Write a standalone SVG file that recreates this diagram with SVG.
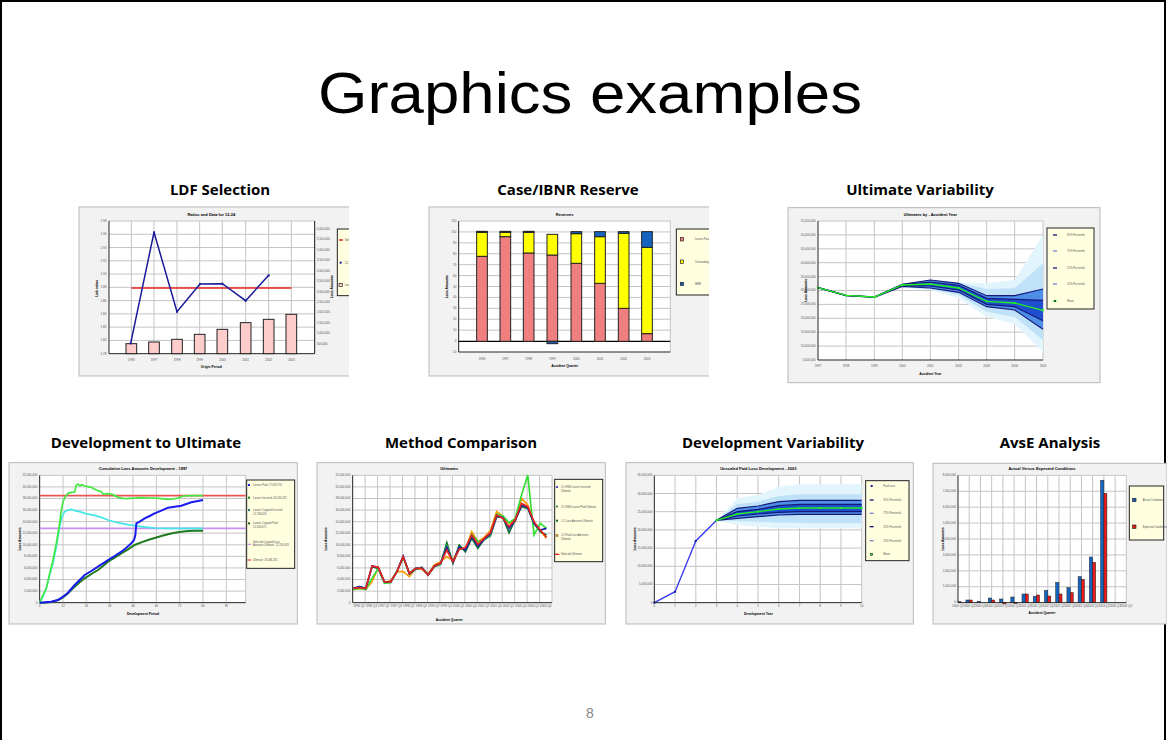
<svg xmlns="http://www.w3.org/2000/svg" width="1167" height="740" viewBox="0 0 1167 740">
<style>
.frame{fill:#f2f2f2;stroke:#b8b8b8;stroke-width:3}
.plot{fill:#fff;stroke:none}
.grid{stroke:#c4c4c4;stroke-width:3;fill:none}
.axis{stroke:#222;stroke-width:3;fill:none}
.tick{font-family:"Liberation Sans",Arial,sans-serif;font-size:9px;fill:#555}
.ttl{font-family:"Liberation Sans",Arial,sans-serif;font-size:12px;font-weight:bold;fill:#000}
.atl{font-family:"Liberation Sans",Arial,sans-serif;font-size:10px;font-weight:bold;fill:#000}
.leg{fill:#ffffe0;stroke:#222;stroke-width:3}
.lt{font-family:"Liberation Sans",Arial,sans-serif;font-size:8px;fill:#555}
.head{font-family:"Open Sans","Liberation Sans",Arial,sans-serif;font-size:15px;font-weight:bold;fill:#000;text-anchor:middle}
.outer{fill:#e2f4fc}
.half{fill:#bfe2f8}
.b95{fill:#4f8ee6}
.b75{fill:#1f4fcf}
.pct{fill:none;stroke:#141a7a;stroke-width:3.5}
</style>
<defs>
<clipPath id="c1"><rect x="0" y="0" width="813" height="520"/></clipPath>
<clipPath id="c2"><rect x="0" y="0" width="843" height="520"/></clipPath>
</defs>
<rect x="1" y="1" width="1164" height="780" fill="#fff" stroke="#000" stroke-width="2"/>
<text x="590" y="113" font-family="Liberation Sans,Arial,sans-serif" font-size="58" text-anchor="middle" textLength="544" lengthAdjust="spacingAndGlyphs">Graphics examples</text>

<g id="heads">
<text class="head" x="220" y="195">LDF Selection</text>
<text class="head" x="568" y="195">Case/IBNR Reserve</text>
<text class="head" x="920" y="195">Ultimate Variability</text>
<text class="head" x="146" y="448">Development to Ultimate</text>
<text class="head" x="461" y="448">Method Comparison</text>
<text class="head" x="773" y="448">Development Variability</text>
<text class="head" x="1050" y="448">AvsE Analysis</text>
</g>

<!-- Chart 1 LDF -->
<g id="ldf" transform="translate(78,205) scale(0.33333)">
<g clip-path="url(#c1)">
<rect class="frame" x="3" y="6" width="830" height="507"/>
<rect class="plot" x="93" y="48" width="617" height="398"/>
<path class="grid" d="M93 48H710M93 87.8H710M93 127.6H710M93 167.4H710M93 207.2H710M93 247H710M93 286.8H710M93 326.6H710M93 366.4H710M93 406.2H710M160 48V446M228 48V446M297 48V446M365 48V446M433 48V446M503 48V446M572 48V446M640 48V446M710 48V446"/>
<path class="axis" d="M93 48V446H710V48"/>
<g class="tick" text-anchor="end">
<text x="85" y="51">1.98</text><text x="85" y="91">1.96</text><text x="85" y="131">1.94</text><text x="85" y="170">1.92</text><text x="85" y="210">1.90</text><text x="85" y="250">1.88</text><text x="85" y="290">1.86</text><text x="85" y="330">1.84</text><text x="85" y="369">1.82</text><text x="85" y="409">1.80</text><text x="85" y="449">1.78</text>
</g>
<g class="tick">
<text x="716" y="75">6,000,000</text><text x="716" y="106">5,500,000</text><text x="716" y="138">5,000,000</text><text x="716" y="169">4,500,000</text><text x="716" y="200">4,000,000</text><text x="716" y="231">3,500,000</text><text x="716" y="263">3,000,000</text><text x="716" y="294">2,500,000</text><text x="716" y="325">2,000,000</text><text x="716" y="356">1,500,000</text><text x="716" y="387">1,000,000</text><text x="716" y="419">500,000</text><text x="716" y="449">-</text>
</g>
<g class="tick" text-anchor="middle">
<text x="160" y="467">1996</text><text x="228" y="467">1997</text><text x="297" y="467">1998</text><text x="365" y="467">1999</text><text x="433" y="467">2000</text><text x="503" y="467">2001</text><text x="572" y="467">2002</text><text x="640" y="467">2003</text>
</g>
<g fill="#ffcccc" stroke="#222" stroke-width="3">
<rect x="144" y="416" width="32" height="30"/><rect x="212" y="411" width="32" height="35"/><rect x="281" y="403" width="32" height="43"/><rect x="349" y="388" width="32" height="58"/><rect x="417" y="373" width="32" height="73"/><rect x="487" y="353" width="32" height="93"/><rect x="556" y="343" width="32" height="103"/><rect x="624" y="328" width="32" height="118"/>
</g>
<path d="M160 249H640" stroke="#e8231f" stroke-width="5" fill="none"/>
<polyline points="158,415 228,82 297,320 366,237 433,236 503,287 572,211" fill="none" stroke="#1a1a99" stroke-width="4.5"/>
<g fill="#1a1a99"><rect x="155" y="412" width="6" height="6"/><rect x="225" y="79" width="6" height="6"/><rect x="294" y="317" width="6" height="6"/><rect x="363" y="234" width="6" height="6"/><rect x="430" y="233" width="6" height="6"/><rect x="500" y="284" width="6" height="6"/><rect x="569" y="208" width="6" height="6"/></g>
<text class="ttl" x="400" y="34" text-anchor="middle">Ratios and Data for 12-24</text>
<text class="atl" x="400" y="489" text-anchor="middle">Origin Period</text>
<text class="atl" transform="translate(60,250) rotate(-90)" text-anchor="middle">Link ratios</text>
<text class="atl" transform="translate(766,245) rotate(-90)" text-anchor="middle">Loss Amounts</text>
<rect class="leg" x="778" y="72" width="90" height="200"/>
<path d="M783 105H795" stroke="#e8231f" stroke-width="4"/>
<rect x="785" y="170" width="6" height="6" fill="#1a1a99"/>
<rect x="783" y="235" width="10" height="10" fill="#ffcccc" stroke="#222" stroke-width="2"/>
<text class="lt" x="800" y="108">Selected</text>
<text class="lt" x="800" y="176">12-24</text>
<text class="lt" x="800" y="243">Losses Paid</text>
</g>
</g>

<!-- Chart 2 Case/IBNR -->
<g id="reserve" transform="translate(428,205) scale(0.33333)">
<g clip-path="url(#c2)">
<rect class="frame" x="3" y="6" width="860" height="507"/>
<rect class="plot" x="92" y="48" width="635" height="393"/>
<path class="grid" d="M92 48H727M92 80.75H727M92 113.5H727M92 146.25H727M92 179H727M92 211.75H727M92 244.5H727M92 277.25H727M92 310H727M92 342.75H727M92 375.5H727M727 48V441"/>
<path class="axis" d="M92 48V441H727"/>
<path d="M92 409H727" stroke="#000" stroke-width="4"/>
<g class="tick" text-anchor="end">
<text x="85" y="51">110</text><text x="85" y="84">100</text><text x="85" y="117">90</text><text x="85" y="149">80</text><text x="85" y="182">70</text><text x="85" y="215">60</text><text x="85" y="248">50</text><text x="85" y="280">40</text><text x="85" y="313">30</text><text x="85" y="346">20</text><text x="85" y="379">10</text><text x="85" y="412">0</text><text x="85" y="444">-10</text>
</g>
<g class="tick" text-anchor="middle">
<text x="162" y="465">1996</text><text x="232" y="465">1997</text><text x="302" y="465">1998</text><text x="373" y="465">1999</text><text x="445" y="465">2000</text><text x="516" y="465">2001</text><text x="587" y="465">2002</text><text x="657" y="465">2003</text>
</g>
<g stroke="#222" stroke-width="3">
<rect x="146" y="154" width="32" height="255" fill="#f08080"/><rect x="146" y="82" width="32" height="72" fill="#ffff00"/><rect x="146" y="79" width="32" height="3" fill="#1565c0"/>
<rect x="216" y="95" width="32" height="314" fill="#f08080"/><rect x="216" y="82" width="32" height="13" fill="#ffff00"/><rect x="216" y="79" width="32" height="3" fill="#1565c0"/>
<rect x="286" y="144" width="32" height="265" fill="#f08080"/><rect x="286" y="82" width="32" height="62" fill="#ffff00"/><rect x="286" y="79" width="32" height="3" fill="#1565c0"/>
<rect x="357" y="150" width="32" height="259" fill="#f08080"/><rect x="357" y="88" width="32" height="62" fill="#ffff00"/><rect x="357" y="409" width="32" height="7" fill="#1565c0"/>
<rect x="429" y="175" width="32" height="234" fill="#f08080"/><rect x="429" y="86" width="32" height="89" fill="#ffff00"/><rect x="429" y="80" width="32" height="6" fill="#1565c0"/>
<rect x="500" y="235" width="32" height="174" fill="#f08080"/><rect x="500" y="95" width="32" height="140" fill="#ffff00"/><rect x="500" y="80" width="32" height="15" fill="#1565c0"/>
<rect x="571" y="310" width="32" height="99" fill="#f08080"/><rect x="571" y="85" width="32" height="225" fill="#ffff00"/><rect x="571" y="80" width="32" height="5" fill="#1565c0"/>
<rect x="641" y="386" width="32" height="23" fill="#f08080"/><rect x="641" y="127" width="32" height="259" fill="#ffff00"/><rect x="641" y="80" width="32" height="47" fill="#1565c0"/>
</g>
<text class="ttl" x="410" y="34" text-anchor="middle">Reserves</text>
<text class="atl" x="410" y="487" text-anchor="middle">Accident Quarter</text>
<text class="atl" transform="translate(60,245) rotate(-90)" text-anchor="middle">Loss Amounts</text>
<rect class="leg" x="745" y="72" width="130" height="198"/>
<g stroke="#222" stroke-width="2"><rect x="757" y="98" width="10" height="10" fill="#f08080"/><rect x="757" y="165" width="10" height="10" fill="#ffff00"/><rect x="757" y="232" width="10" height="10" fill="#1565c0"/></g>
<text class="lt" x="800" y="106">Losses Paid</text>
<text class="lt" x="800" y="173">Outstandings</text>
<text class="lt" x="800" y="240">IBNR</text>
</g>
</g>

<!-- Chart 3 Ultimate Variability -->
<g id="ultvar" transform="translate(787,205) scale(0.33333)">
<rect class="frame" x="3" y="8" width="936" height="525"/>
<rect class="plot" x="93" y="48" width="675" height="417"/>
<path class="grid" d="M93 48H768M93 89.7H768M93 131.4H768M93 173.1H768M93 214.8H768M93 256.5H768M93 298.2H768M93 339.9H768M93 381.6H768M93 423.3H768M177 48V465M262 48V465M346 48V465M430 48V465M515 48V465M599 48V465M683 48V465M768 48V465"/>
<polygon class="outer" points="346,240 430,228 515,232 599,235 683,225 768,90 768,440 683,358 599,335 515,280 430,255 346,248"/>
<polygon class="half" points="346,240 430,229 515,233 599,252 683,250 768,175 768,405 683,336 599,320 515,270 430,253 346,246"/>
<polygon class="b95" points="346,238 430,225 515,235 599,272 683,272 768,252 768,373 683,315 599,305 515,262 430,249 346,244"/>
<polygon class="b75" points="346,239 430,231 515,241 599,280 683,283 768,286 768,347 683,305 599,298 515,255 430,243 346,242"/>
<g class="pct">
<polyline points="93,248 177,271 262,276 346,238 430,225 515,235 599,272 683,272 768,252"/>
<polyline points="93,248 177,271 262,276 346,239 430,231 515,241 599,280 683,283 768,286"/>
<polyline points="93,248 177,271 262,276 346,242 430,243 515,255 599,298 683,305 768,347"/>
<polyline points="93,248 177,272 262,277 346,244 430,249 515,262 599,305 683,315 768,373"/>
</g>
<polyline points="93,248 177,271 262,276 346,240 430,237 515,249 599,289 683,294 768,316" fill="none" stroke="#22ee22" stroke-width="4"/>
<g fill="#22ee22"><rect x="90" y="245" width="6" height="6"/><rect x="174" y="268" width="6" height="6"/><rect x="259" y="273" width="6" height="6"/><rect x="343" y="237" width="6" height="6"/><rect x="427" y="234" width="6" height="6"/><rect x="512" y="246" width="6" height="6"/><rect x="596" y="286" width="6" height="6"/><rect x="680" y="291" width="6" height="6"/><rect x="765" y="313" width="6" height="6"/></g>
<path class="axis" d="M93 48V465H768"/>
<g class="tick" text-anchor="end">
<text x="86" y="51">55,000,000</text><text x="86" y="93">50,000,000</text><text x="86" y="134">45,000,000</text><text x="86" y="176">40,000,000</text><text x="86" y="218">35,000,000</text><text x="86" y="259">30,000,000</text><text x="86" y="301">25,000,000</text><text x="86" y="343">20,000,000</text><text x="86" y="385">15,000,000</text><text x="86" y="426">10,000,000</text><text x="86" y="468">5,000,000</text>
</g>
<g class="tick" text-anchor="middle">
<text x="93" y="487">1997</text><text x="177" y="487">1998</text><text x="262" y="487">1999</text><text x="346" y="487">2000</text><text x="430" y="487">2001</text><text x="515" y="487">2002</text><text x="599" y="487">2003</text><text x="683" y="487">2004</text><text x="768" y="487">2005</text>
</g>
<text class="ttl" x="430" y="34" text-anchor="middle">Ultimates by - Accident Year</text>
<text class="atl" x="430" y="509" text-anchor="middle">Accident Year</text>
<text class="atl" transform="translate(60,256) rotate(-90)" text-anchor="middle">Loss Amounts</text>
<rect class="leg" x="780" y="69" width="141" height="243"/>
<g stroke-width="4"><path d="M798 90H810" stroke="#141a7a"/><path d="M798 138H810" stroke="#7986cb"/><path d="M798 189H810" stroke="#141a7a"/><path d="M798 237H810" stroke="#7986cb"/></g>
<rect x="801" y="285" width="6" height="6" fill="#111"/><path d="M796 288H812" stroke="#22ee22" stroke-width="2"/>
<text class="lt" x="840" y="93">95% Percentile</text>
<text class="lt" x="840" y="141">75% Percentile</text>
<text class="lt" x="840" y="192">25% Percentile</text>
<text class="lt" x="840" y="240">10% Percentile</text>
<text class="lt" x="840" y="291">Mean</text>
</g>

<!-- Chart 4 Development to Ultimate -->
<g id="devult" transform="translate(8,460) scale(0.33333)">
<rect class="frame" x="3" y="8" width="865" height="484"/>
<rect class="plot" x="95" y="46" width="618" height="382"/>
<path class="grid" d="M95 46H713M95 80.7H713M95 115.5H713M95 150.2H713M95 184.9H713M95 219.6H713M95 254.4H713M95 289.1H713M95 323.8H713M95 358.5H713M95 393.3H713M165 46V428M235 46V428M305 46V428M375 46V428M445 46V428M515 46V428M585 46V428M655 46V428M713 46V428"/>
<path class="axis" d="M95 46V428H713"/>
<g class="tick" text-anchor="end">
<text x="88" y="49">22,000,000</text><text x="88" y="84">20,000,000</text><text x="88" y="118">18,000,000</text><text x="88" y="153">16,000,000</text><text x="88" y="188">14,000,000</text><text x="88" y="223">12,000,000</text><text x="88" y="257">10,000,000</text><text x="88" y="292">8,000,000</text><text x="88" y="327">6,000,000</text><text x="88" y="361">4,000,000</text><text x="88" y="396">2,000,000</text><text x="88" y="431">0</text>
</g>
<g class="tick" text-anchor="middle">
<text x="95" y="442">0</text><text x="165" y="442">12</text><text x="235" y="442">24</text><text x="305" y="442">36</text><text x="375" y="442">48</text><text x="445" y="442">60</text><text x="515" y="442">72</text><text x="585" y="442">84</text><text x="655" y="442">96</text>
</g>
<path d="M95 107H713" stroke="#f05050" stroke-width="5"/>
<path d="M95 205H713" stroke="#c890f0" stroke-width="5"/>
<g fill="none" stroke-width="5">
<polyline stroke="#40e8e8" points="95,428 105,410 115,385 125,345 135,310 145,260 155,200 162,170 170,155 180,150 190,148 200,152 215,155 230,160 245,163 260,166 280,172 300,180 320,186 340,190 360,194 380,197 400,200 420,202 440,204 480,205 520,205 585,205"/>
<polyline stroke="#40e840" points="95,428 105,405 115,385 125,340 135,300 145,250 155,190 160,150 165,125 172,110 180,100 190,97 200,96 205,75 210,72 215,78 222,74 230,78 240,80 250,82 260,88 270,92 280,95 285,102 300,101 315,104 330,112 345,115 360,116 380,114 400,113 420,114 440,114 460,116 480,118 495,117 510,114 520,110 525,108 550,107 585,107"/>
<polyline stroke="#1e7a1e" stroke-width="6" points="95,428 110,428 130,426 150,420 165,412 180,400 200,380 215,367 230,355 250,342 270,330 285,318 300,305 320,293 340,280 360,268 380,255 400,247 420,240 440,234 460,228 480,223 500,218 520,215 540,213 560,212 585,212"/>
<polyline stroke="#1a1aee" stroke-width="6" points="95,428 110,427 130,425 150,420 165,410 180,398 200,375 215,360 230,345 250,333 270,320 285,310 300,300 320,288 340,275 355,263 370,250 378,240 382,225 385,190 395,185 410,175 425,168 440,160 460,152 480,143 500,140 520,137 535,132 550,127 570,123 585,120"/>
</g>
<text class="ttl" x="405" y="30" text-anchor="middle">Cumulative Loss Amounts Development - 1997</text>
<text class="atl" x="405" y="465" text-anchor="middle">Development Period</text>
<text class="atl" transform="translate(38,237) rotate(-90)" text-anchor="middle">Loss Amounts</text>
<rect class="leg" x="716" y="60" width="144" height="265"/>
<rect x="720" y="72" width="6" height="6" fill="#1a1aee"/>
<rect x="720" y="110" width="6" height="6" fill="#1e7a1e"/>
<rect x="720" y="147" width="6" height="6" fill="#1e7a6e"/>
<rect x="720" y="187" width="6" height="6" fill="#1e5a1e"/>
<path d="M718 253H730" stroke="#c890f0" stroke-width="4"/>
<path d="M718 300H730" stroke="#f05050" stroke-width="4"/>
<g class="lt" font-size="7px">
<text x="735" y="78">Losses Paid: 17,633,791</text>
<text x="735" y="116">Losses Incurred: 18,436,282</text>
<text x="735" y="153">Losses Capped Incurred:</text><text x="735" y="164">12,766,618</text>
<text x="735" y="193">Losses Capped Paid:</text><text x="735" y="204">12,440,671</text>
<text x="735" y="248">Selected Capped Loss</text><text x="735" y="259">Amounts Ultimate: 12,766,618</text>
<text x="735" y="303">Ultimate: 18,436,282</text>
</g>
</g>

<!-- Chart 5 Method Comparison -->
<g id="method" transform="translate(316,460) scale(0.33333)">
<rect class="frame" x="3" y="8" width="865" height="484"/>
<rect class="plot" x="110" y="46" width="598" height="382"/>
<path class="grid" d="M110 46H708M110 80.7H708M110 115.5H708M110 150.2H708M110 184.9H708M110 219.6H708M110 254.4H708M110 289.1H708M110 323.8H708M110 358.5H708M110 393.3H708M147.4 46V428M184.8 46V428M222.1 46V428M259.5 46V428M296.9 46V428M334.3 46V428M371.6 46V428M409 46V428M446.4 46V428M483.8 46V428M521.1 46V428M558.5 46V428M595.9 46V428M633.3 46V428M670.6 46V428M708 46V428"/>
<path class="axis" d="M110 46V428H708"/>
<g class="tick" text-anchor="end">
<text x="103" y="49">22,000,000</text><text x="103" y="84">20,000,000</text><text x="103" y="118">18,000,000</text><text x="103" y="153">16,000,000</text><text x="103" y="188">14,000,000</text><text x="103" y="223">12,000,000</text><text x="103" y="257">10,000,000</text><text x="103" y="292">8,000,000</text><text x="103" y="327">6,000,000</text><text x="103" y="361">4,000,000</text><text x="103" y="396">2,000,000</text><text x="103" y="431">0</text>
</g>
<g class="tick" text-anchor="middle" font-size="8px">
<text x="128.7" y="442">1996 Q2</text><text x="166.1" y="442">1996 Q4</text><text x="203.4" y="442">1997 Q2</text><text x="240.8" y="442">1997 Q4</text><text x="278.2" y="442">1998 Q2</text><text x="315.6" y="442">1998 Q4</text><text x="353" y="442">1999 Q2</text><text x="390.3" y="442">1999 Q4</text><text x="427.7" y="442">2000 Q2</text><text x="465.1" y="442">2000 Q4</text><text x="502.4" y="442">2001 Q2</text><text x="539.8" y="442">2001 Q4</text><text x="577.2" y="442">2002 Q2</text><text x="614.6" y="442">2002 Q4</text><text x="652" y="442">2003 Q2</text><text x="689.3" y="442">2003 Q4</text>
</g>
<g fill="none" stroke-width="5">
<polyline stroke="#ff9900" points="112,388 130.7,385 149.4,388 168.1,365 186.8,322 205.5,368 224.1,362 242.8,335 261.5,335 280.2,350 298.9,325 317.6,327 336.3,342 355,315 373.7,305 392.4,290 411,300 429.7,265 448.4,270 467.1,215 485.8,245 504.5,232 523.2,212 541.9,155 560.6,168 579.2,190 597.9,185 616.6,115 635.3,135 654,190 672.7,212 691.4,235"/>
<polyline stroke="#0b6b34" points="112,385 130.7,380 149.4,385 168.1,320 186.8,325 205.5,368 224.1,366 242.8,335 261.5,292 280.2,342 298.9,328 317.6,322 336.3,345 355,320 373.7,313 392.4,248 411,310 429.7,255 448.4,275 467.1,235 485.8,265 504.5,238 523.2,228 541.9,170 560.6,172 579.2,218 597.9,178 616.6,140 635.3,145 654,190 672.7,215 691.4,225"/>
<polyline stroke="#33dd33" points="112,388 130.7,385 149.4,388 168.1,355 186.8,325 205.5,370 224.1,368 242.8,333 261.5,292 280.2,340 298.9,325 317.6,325 336.3,345 355,318 373.7,312 392.4,258 411,306 429.7,265 448.4,268 467.1,222 485.8,245 504.5,240 523.2,225 541.9,162 560.6,168 579.2,188 597.9,175 616.6,105 635.3,45 654,225 672.7,190 691.4,205"/>
<polyline stroke="#1a1ab0" points="112,385 130.7,380 149.4,386 168.1,318 186.8,323 205.5,366 224.1,366 242.8,335 261.5,288 280.2,341 298.9,325 317.6,324 336.3,345 355,318 373.7,310 392.4,262 411,307 429.7,262 448.4,270 467.1,228 485.8,258 504.5,238 523.2,222 541.9,168 560.6,173 579.2,205 597.9,180 616.6,135 635.3,142 654,190 672.7,210 691.4,205"/>
<polyline stroke="#e8231f" points="112,385 130.7,383 149.4,385 168.1,318 186.8,322 205.5,366 224.1,366 242.8,335 261.5,290 280.2,340 298.9,325 317.6,325 336.3,345 355,318 373.7,310 392.4,270 411,305 429.7,268 448.4,263 467.1,225 485.8,253 504.5,235 523.2,218 541.9,165 560.6,175 579.2,200 597.9,178 616.6,130 635.3,140 654,185 672.7,210 691.4,232"/>
</g>
<text class="ttl" x="400" y="30" text-anchor="middle">Ultimates</text>
<text class="atl" x="400" y="482" text-anchor="middle">Accident Quarter</text>
<text class="atl" transform="translate(34,237) rotate(-90)" text-anchor="middle">Loss Amounts</text>
<rect class="leg" x="716" y="58" width="144" height="247"/>
<path d="M723 77l4 4-4 4-4-4z" fill="#1a1ab0"/>
<path d="M723 135l4 7h-8z" fill="#0b6b34"/>
<rect x="720" y="179" width="6" height="6" fill="#0b6b34"/>
<rect x="720" y="224" width="6" height="6" fill="#ff9900" stroke="#333" stroke-width="1"/>
<path d="M717 283H730" stroke="#e8231f" stroke-width="4"/>
<g class="lt" font-size="7px">
<text x="735" y="83">3-I DFM Losses Incurred</text><text x="735" y="96">Ultimate</text>
<text x="735" y="143">3-I DFM Losses Paid Ultimate</text>
<text x="735" y="185">CC Loss Amounts Ultimate</text>
<text x="735" y="229">CC Paid Loss Amounts</text><text x="735" y="241">Ultimate</text>
<text x="735" y="286">Selected Ultimate</text>
</g>
</g>

<!-- Chart 6 Development Variability -->
<g id="devvar" transform="translate(625,460) scale(0.33333)">
<rect class="frame" x="3" y="8" width="862" height="484"/>
<rect class="plot" x="88" y="46" width="622" height="382"/>
<path class="grid" d="M88 46H710M88 100.6H710M88 155.1H710M88 209.7H710M88 264.3H710M88 318.9H710M88 373.4H710M150.2 46V428M212.4 46V428M274.6 46V428M336.8 46V428M399 46V428M461.2 46V428M523.4 46V428M585.6 46V428M647.8 46V428M710 46V428"/>
<polygon class="outer" points="274.6,181 305,150 336.8,115 399,105 430,93 461.2,80 523.4,73 710,73 710,205 461.2,205 399,200 336.8,195"/>
<polygon class="half" points="274.6,181 336.8,132 399,125 461.2,108 523.4,103 710,103 710,190 461.2,188 399,185 336.8,183"/>
<polygon class="b95" points="274.6,181 336.8,145 399,138 461.2,125 523.4,121 710,121 710,163 523.4,163 461.2,165 399,170 336.8,175"/>
<polygon class="b75" points="274.6,181 336.8,155 399,148 461.2,137 523.4,133 710,133 710,155 523.4,155 461.2,157 399,162 336.8,168"/>
<g class="pct">
<polyline points="274.6,181 336.8,145 399,138 461.2,125 523.4,121 710,121"/>
<polyline points="274.6,181 336.8,155 399,148 461.2,137 523.4,133 710,133"/>
<polyline points="274.6,181 336.8,168 399,162 461.2,157 523.4,155 710,155"/>
<polyline points="274.6,181 336.8,175 399,170 461.2,165 523.4,163 710,163"/>
</g>
<polyline points="88,428 150.2,395 212.4,243 274.6,181" fill="none" stroke="#3a3af0" stroke-width="4"/>
<g fill="#1a1a99"><rect x="85" y="425" width="6" height="6"/><rect x="147" y="392" width="6" height="6"/><rect x="209" y="240" width="6" height="6"/></g>
<polyline points="274.6,181 336.8,162 399,155 461.2,147 523.4,144 585.6,144 647.8,144 710,144" fill="none" stroke="#22ee22" stroke-width="4"/>
<g fill="#22ee22"><rect x="271.6" y="178" width="6" height="6"/><rect x="333.8" y="159" width="6" height="6"/><rect x="396" y="152" width="6" height="6"/><rect x="458.2" y="144" width="6" height="6"/><rect x="520.4" y="141" width="6" height="6"/><rect x="582.6" y="141" width="6" height="6"/><rect x="644.8" y="141" width="6" height="6"/><rect x="707" y="141" width="6" height="6"/></g>
<path class="axis" d="M88 46V428H710"/>
<g class="tick" text-anchor="end">
<text x="82" y="49">35,000,000</text><text x="82" y="104">30,000,000</text><text x="82" y="158">25,000,000</text><text x="82" y="213">20,000,000</text><text x="82" y="267">15,000,000</text><text x="82" y="322">10,000,000</text><text x="82" y="376">5,000,000</text><text x="82" y="431">0</text>
</g>
<g class="tick" text-anchor="middle">
<text x="88" y="442">0</text><text x="150.2" y="442">1</text><text x="212.4" y="442">2</text><text x="274.6" y="442">3</text><text x="336.8" y="442">4</text><text x="399" y="442">5</text><text x="461.2" y="442">6</text><text x="523.4" y="442">7</text><text x="585.6" y="442">8</text><text x="647.8" y="442">9</text><text x="710" y="442">10</text>
</g>
<text class="ttl" x="400" y="30" text-anchor="middle">Unscaled Paid Loss Development - 2003</text>
<text class="atl" x="400" y="464" text-anchor="middle">Development Year</text>
<text class="atl" transform="translate(34,237) rotate(-90)" text-anchor="middle">Loss Amounts</text>
<rect class="leg" x="722" y="62" width="130" height="240"/>
<rect x="737" y="75" width="6" height="6" fill="#1a1a99"/>
<g stroke-width="4"><path d="M734 120H746" stroke="#141a7a"/><path d="M734 160H746" stroke="#7986cb"/><path d="M734 200H746" stroke="#141a7a"/><path d="M734 242H746" stroke="#7986cb"/></g>
<rect x="737" y="280" width="6" height="6" fill="#22ee22" stroke="#111" stroke-width="1.5"/>
<text class="lt" x="775" y="81">Paid Loss</text>
<text class="lt" x="775" y="123">95% Percentile</text>
<text class="lt" x="775" y="163">75% Percentile</text>
<text class="lt" x="775" y="203">25% Percentile</text>
<text class="lt" x="775" y="245">10% Percentile</text>
<text class="lt" x="775" y="286">Mean</text>
</g>

<!-- Chart 7 AvsE -->
<g id="avse" transform="translate(932,460) scale(0.33333)">
<rect class="frame" x="3" y="10" width="702" height="482"/>
<rect class="plot" x="78" y="46" width="505" height="382"/>
<path class="grid" d="M78 46H583M78 93.75H583M78 141.5H583M78 189.25H583M78 237H583M78 284.75H583M78 332.5H583M78 380.25H583M111.67 46V428M145.34 46V428M179.01 46V428M212.68 46V428M246.35 46V428M280.02 46V428M313.69 46V428M347.36 46V428M381.03 46V428M414.7 46V428M448.37 46V428M482.04 46V428M515.71 46V428M549.38 46V428M583 46V428"/>
<g stroke="#222" stroke-width="1.5">
<g fill="#1565c0">
<rect x="101.67" y="420" width="10" height="8"/><rect x="135.34" y="424" width="10" height="4"/><rect x="169.01" y="414" width="10" height="14"/><rect x="202.68" y="417" width="10" height="11"/><rect x="236.35" y="411" width="10" height="17"/><rect x="270.02" y="402" width="10" height="26"/><rect x="303.69" y="409" width="10" height="19"/><rect x="337.36" y="391" width="10" height="37"/><rect x="371.03" y="367" width="10" height="61"/><rect x="404.7" y="383" width="10" height="45"/><rect x="438.37" y="350" width="10" height="78"/><rect x="472.04" y="291" width="10" height="137"/><rect x="505.71" y="61" width="10" height="367"/>
</g>
<g fill="#e81a1a">
<rect x="78" y="425" width="9" height="3"/><rect x="111.67" y="420" width="9" height="8"/><rect x="179.01" y="420" width="9" height="8"/><rect x="212.68" y="428" width="9" height="4"/><rect x="246.35" y="428" width="9" height="3"/><rect x="280.02" y="402" width="9" height="26"/><rect x="313.69" y="405" width="9" height="23"/><rect x="347.36" y="408" width="9" height="20"/><rect x="381.03" y="402" width="9" height="26"/><rect x="414.7" y="398" width="9" height="30"/><rect x="448.37" y="358" width="9" height="70"/><rect x="482.04" y="307" width="9" height="121"/><rect x="515.71" y="100" width="9" height="328"/>
</g>
</g>
<path class="axis" d="M78 46V428H583"/>
<g class="tick" text-anchor="end" font-size="6px">
<text x="72" y="48">8,000,000</text><text x="72" y="96">7,000,000</text><text x="72" y="144">6,000,000</text><text x="72" y="191">5,000,000</text><text x="72" y="239">4,000,000</text><text x="72" y="287">3,000,000</text><text x="72" y="335">2,000,000</text><text x="72" y="382">1,000,000</text><text x="72" y="430">0</text>
</g>
<g class="tick" text-anchor="middle" font-size="6px">
<text x="78" y="440">2000 Q1</text><text x="111.7" y="440">2000 Q2</text><text x="145.3" y="440">2000 Q3</text><text x="179" y="440">2000 Q4</text><text x="212.7" y="440">2001 Q1</text><text x="246.4" y="440">2001 Q2</text><text x="280" y="440">2001 Q3</text><text x="313.7" y="440">2001 Q4</text><text x="347.4" y="440">2002 Q1</text><text x="381" y="440">2002 Q2</text><text x="414.7" y="440">2002 Q3</text><text x="448.4" y="440">2002 Q4</text><text x="482" y="440">2003 Q1</text><text x="515.7" y="440">2003 Q2</text><text x="549.4" y="440">2003 Q3</text><text x="583" y="440">2003 Q4</text>
</g>
<text class="ttl" x="330" y="30" text-anchor="middle" font-size="10px">Actual Versus Expected Conditions</text>
<text class="atl" x="330" y="462" text-anchor="middle" font-size="8px">Accident Quarter</text>
<text class="atl" transform="translate(36,237) rotate(-90)" text-anchor="middle" font-size="8px">Loss Amounts</text>
<rect class="leg" x="592" y="78" width="103" height="162"/>
<rect x="602" y="115" width="10" height="10" fill="#1565c0" stroke="#222" stroke-width="2"/>
<rect x="602" y="195" width="10" height="10" fill="#e81a1a" stroke="#222" stroke-width="2"/>
<text class="lt" x="632" y="123" font-size="6px">Actual Conditions</text>
<text class="lt" x="632" y="203" font-size="6px">Expected Conditions</text>
</g>

<text id="page" x="590" y="718" font-family="Liberation Sans,Arial,sans-serif" font-size="14" fill="#888" text-anchor="middle">8</text>
</svg>
